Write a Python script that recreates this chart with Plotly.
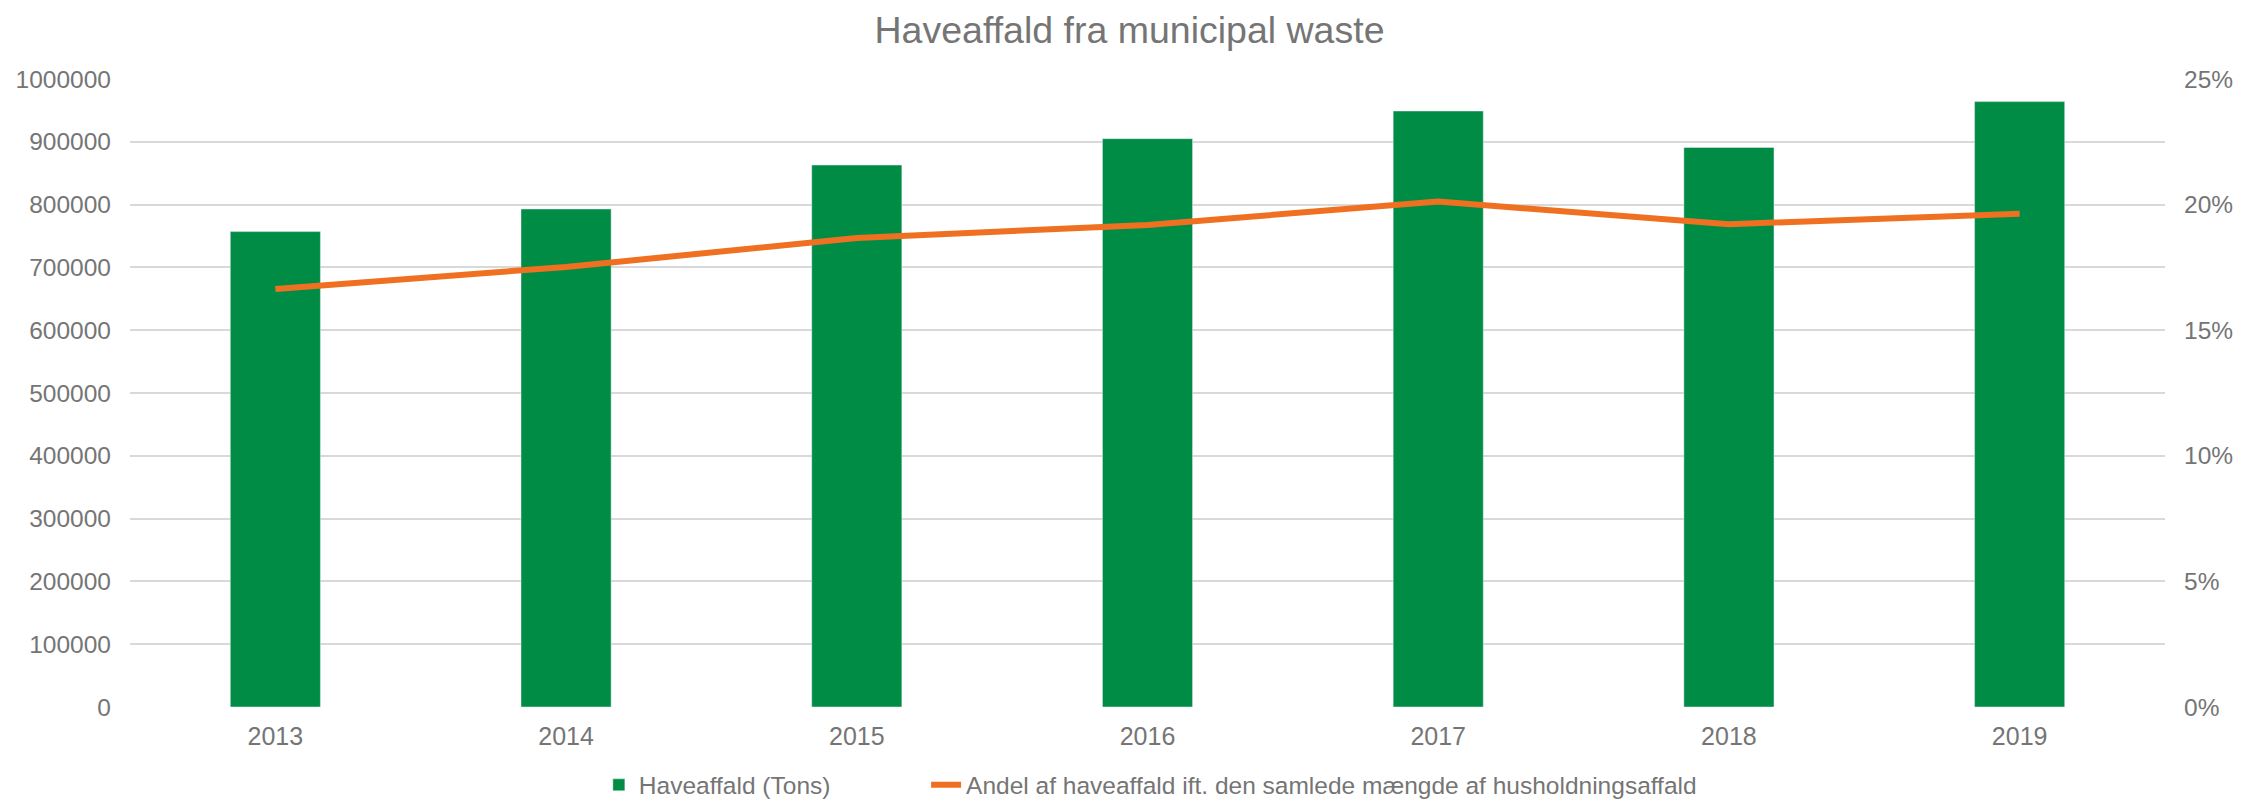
import plotly.graph_objects as go

years = ["2013", "2014", "2015", "2016", "2017", "2018", "2019"]
tons = [757000, 793000, 863000, 905000, 949000, 891000, 964000]
share = [0.1664, 0.1752, 0.1867, 0.1919, 0.2012, 0.1922, 0.1964]

bar_name = "Haveaffald (Tons)"
line_name = "Andel af haveaffald ift. den samlede mængde af husholdningsaffald"
title_text = "Haveaffald fra municipal waste"

GRAY = "#757575"
FONT = "Liberation Sans, Arial, sans-serif"

fig = go.Figure()
fig.add_trace(go.Bar(x=years, y=tons, name=bar_name, marker_color="#008C45",
                     width=0.31, yaxis="y", legend="legend"))
fig.add_trace(go.Scatter(x=years, y=share, name=line_name, mode="lines",
                         line=dict(color="#F07022", width=6), yaxis="y2",
                         legend="legend2"))

legend_common = dict(orientation="h", xanchor="left", y=-0.124, yanchor="middle",
                     font=dict(size=24.5, color=GRAY, family=FONT),
                     bgcolor="rgba(0,0,0,0)")

fig.update_layout(
    width=2259, height=802,
    margin=dict(l=130, r=94, t=79, b=95, autoexpand=False),
    paper_bgcolor="white", plot_bgcolor="white",
    font=dict(family=FONT, color=GRAY, size=25),
    title=dict(text=title_text, x=0.5, xref="container", xanchor="center",
               y=1 - 30 / 802, yanchor="middle",
               font=dict(size=37.5, color=GRAY, family=FONT)),
    xaxis=dict(type="category", range=[-0.5, 6.5], showline=False, showgrid=False,
               ticks="", ticklabelstandoff=12, automargin=False,
               tickfont=dict(size=25, color=GRAY)),
    yaxis=dict(range=[0, 1000000], dtick=100000, tickformat="d",
               gridcolor="#D9D9D9", gridwidth=1.5, zeroline=False, automargin=False,
               showline=False, ticks="", ticklabelstandoff=18,
               tickfont=dict(size=24.5, color=GRAY)),
    yaxis2=dict(overlaying="y", side="right", range=[0, 0.25], dtick=0.05,
                tickformat=".0%", showgrid=False, zeroline=False, showline=False,
                automargin=False, ticks="", ticklabelstandoff=18,
                tickfont=dict(size=24.5, color=GRAY)),
    showlegend=True,
    legend=dict(x=0.2304, **legend_common),
    legend2=dict(x=0.3912, **legend_common),
)

fig.write_html("out.html", config={"displayModeBar": False},
               post_script="document.body.style.margin='0px';document.body.style.padding='0px';")
